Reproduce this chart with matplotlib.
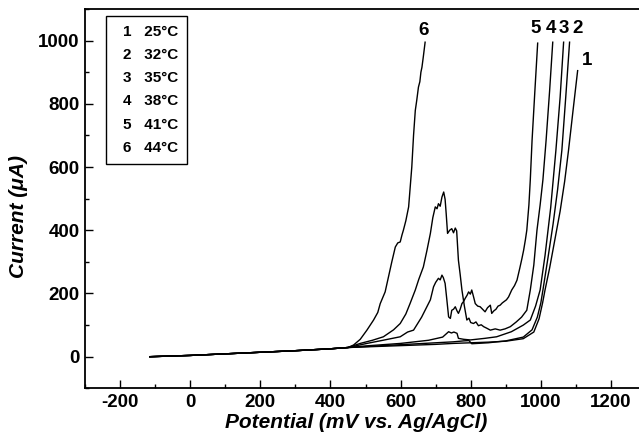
import matplotlib
matplotlib.use("Agg")
import matplotlib.pyplot as plt
from matplotlib.ticker import MultipleLocator

plt.rcParams['font.family'] = ['Liberation Sans', 'DejaVu Sans']
plt.rcParams['font.weight'] = 'bold'
plt.rcParams['axes.unicode_minus'] = False

# polarization curves, potential in mV vs Ag/AgCl, current in uA
base_e = [-115, 0, 100, 200, 300, 400, 450]
base_i = [0, 4, 9, 14, 19, 25, 29]

e1 = base_e + [500, 600, 700, 750, 800, 850, 900, 950, 980, 995, 1005, 1012, 1025, 1040, 1055, 1068, 1079, 1092, 1105]
i1 = base_i + [31, 35, 39, 42, 44, 46, 49, 57, 78, 120, 170, 211, 280, 370, 460, 555, 653, 780, 905]

e2 = base_e + [500, 600, 700, 750, 780, 795, 803, 850, 900, 950, 975, 990, 1000, 1006, 1020, 1035, 1048, 1060, 1071, 1082]
i2 = base_i + [32, 38, 44, 47, 50, 51, 41, 44, 50, 62, 85, 125, 170, 211, 310, 420, 530, 653, 820, 995]

e3 = base_e + [500, 600, 680, 720, 737, 745, 752, 761, 765, 780, 799, 840, 874, 916, 950, 970, 985, 998, 1012, 1028, 1043, 1055, 1065]
i3 = base_i + [34, 42, 52, 62, 79, 75, 78, 74, 58, 55, 53, 58, 63, 79, 100, 116, 160, 211, 320, 470, 653, 820, 995]

e4 = base_e + [485, 520, 551, 580, 599, 615, 627, 642, 652, 665, 675, 685, 692, 699, 704, 708, 713, 718, 723,
               727, 730, 734, 740, 746, 751, 756, 760, 765, 770, 775, 782, 789, 795, 800, 808, 815, 822, 830,
               837, 846, 856, 870, 884, 898, 913, 930, 945, 960, 970, 980, 989, 998, 1006, 1015, 1025, 1034]
i4 = base_i + [42, 52, 63, 85, 105, 135, 168, 211, 245, 284, 335, 390, 440, 474, 468, 484, 476, 505, 521,
               498, 454, 390, 400, 405, 392, 407, 398, 305, 260, 211, 160, 116, 122, 108, 105, 110, 98, 101,
               95, 90, 84, 88, 84, 88, 95, 110, 125, 147, 211, 290, 400, 480, 560, 684, 840, 995]

e5 = base_e + [504, 550, 599, 620, 637, 646, 660, 675, 685, 694, 700, 708, 713, 718, 722, 727, 732, 737, 742,
               746, 751, 756, 761, 765, 770, 775, 780, 784, 790, 794, 799, 803, 808, 813, 820, 827, 834, 841,
               848, 856, 860, 866, 872, 878, 884, 890, 896, 902, 908, 917, 925, 932, 940, 946, 951, 956, 960,
               966, 970, 975, 983, 991]
i5 = base_i + [42, 52, 63, 78, 84, 100, 125, 158, 180, 221, 235, 248, 243, 258, 250, 232, 180, 126, 121,
               147, 150, 158, 145, 137, 150, 168, 175, 184, 195, 205, 198, 211, 190, 168, 160, 158, 150, 142,
               155, 163, 137, 145, 150, 160, 163, 170, 175, 180, 189, 211, 225, 242, 280, 310, 337, 370, 400,
               480, 560, 684, 840, 992]

e6 = base_e + [466, 485, 504, 523, 535, 542, 556, 565, 575, 585, 592, 599, 604, 608, 615, 623, 627, 632, 637,
               642, 646, 651, 655, 658, 661, 665, 670]
i6 = base_i + [37, 55, 84, 116, 140, 168, 205, 250, 300, 347, 360, 363, 385, 400, 430, 474, 530, 600, 700,
               779, 810, 853, 870, 900, 916, 950, 995]

curves = [(e1, i1), (e2, i2), (e3, i3), (e4, i4), (e5, i5), (e6, i6)]
curve_names = ['1', '2', '3', '4', '5', '6']
temps = ['25°C', '32°C', '35°C', '38°C', '41°C', '44°C']
# label offsets from the curve ends, in pixels
label_offsets = [(9, 10), (8, 14), (0, 14), (-1.5, 14), (-2.5, 14.5), (-2, 11.5)]

fig = plt.figure(figsize=(6.39, 4.43), dpi=100)
ax = fig.add_axes([85/639, (443-388.3)/443, 554/639, 379.3/443])

for (e, i), name, off in zip(curves, curve_names, label_offsets):
    ax.plot(e, i, color='black', lw=1.0)
    ax.annotate(name, xy=(e[-1], i[-1]), xytext=off, textcoords='offset pixels',
                ha='center', va='center', fontsize=13.5, fontweight='bold')

ax.set_xlim(-300, 1280)
ax.set_ylim(-100, 1100)
ax.xaxis.set_major_locator(MultipleLocator(200))
ax.xaxis.set_minor_locator(MultipleLocator(100))
ax.yaxis.set_major_locator(MultipleLocator(200))
ax.yaxis.set_minor_locator(MultipleLocator(100))
ax.tick_params(which='major', direction='in', length=6, width=1.0, labelsize=13.5, pad=4)
ax.tick_params(which='minor', direction='in', length=3.2, width=1.0)
for s in ['left', 'bottom', 'top']:
    ax.spines[s].set_linewidth(1.3)
ax.spines['right'].set_visible(False)

ax.set_xlabel('Potential (mV vs. Ag/AgCl)', fontsize=15, fontweight='bold', style='italic')
ax.set_ylabel('Current (μA)', fontsize=15, fontweight='bold', style='italic')
ax.xaxis.set_label_coords(0.49, -0.066)
ax.yaxis.set_label_coords(-0.103, 0.452)

handles = [plt.Line2D([], [], linestyle='none') for _ in temps]
labels = [f'{n}   {t}' for n, t in zip(curve_names, temps)]
leg = ax.legend(handles, labels, loc='upper left', bbox_to_anchor=(0.038, 0.982),
                handlelength=0.5, handletextpad=0, fontsize=11, labelspacing=0.6,
                fancybox=False, framealpha=1, edgecolor='black', borderpad=0.6,
                borderaxespad=0)
leg.get_frame().set_linewidth(1.0)

fig.savefig('out.png', dpi=100)
